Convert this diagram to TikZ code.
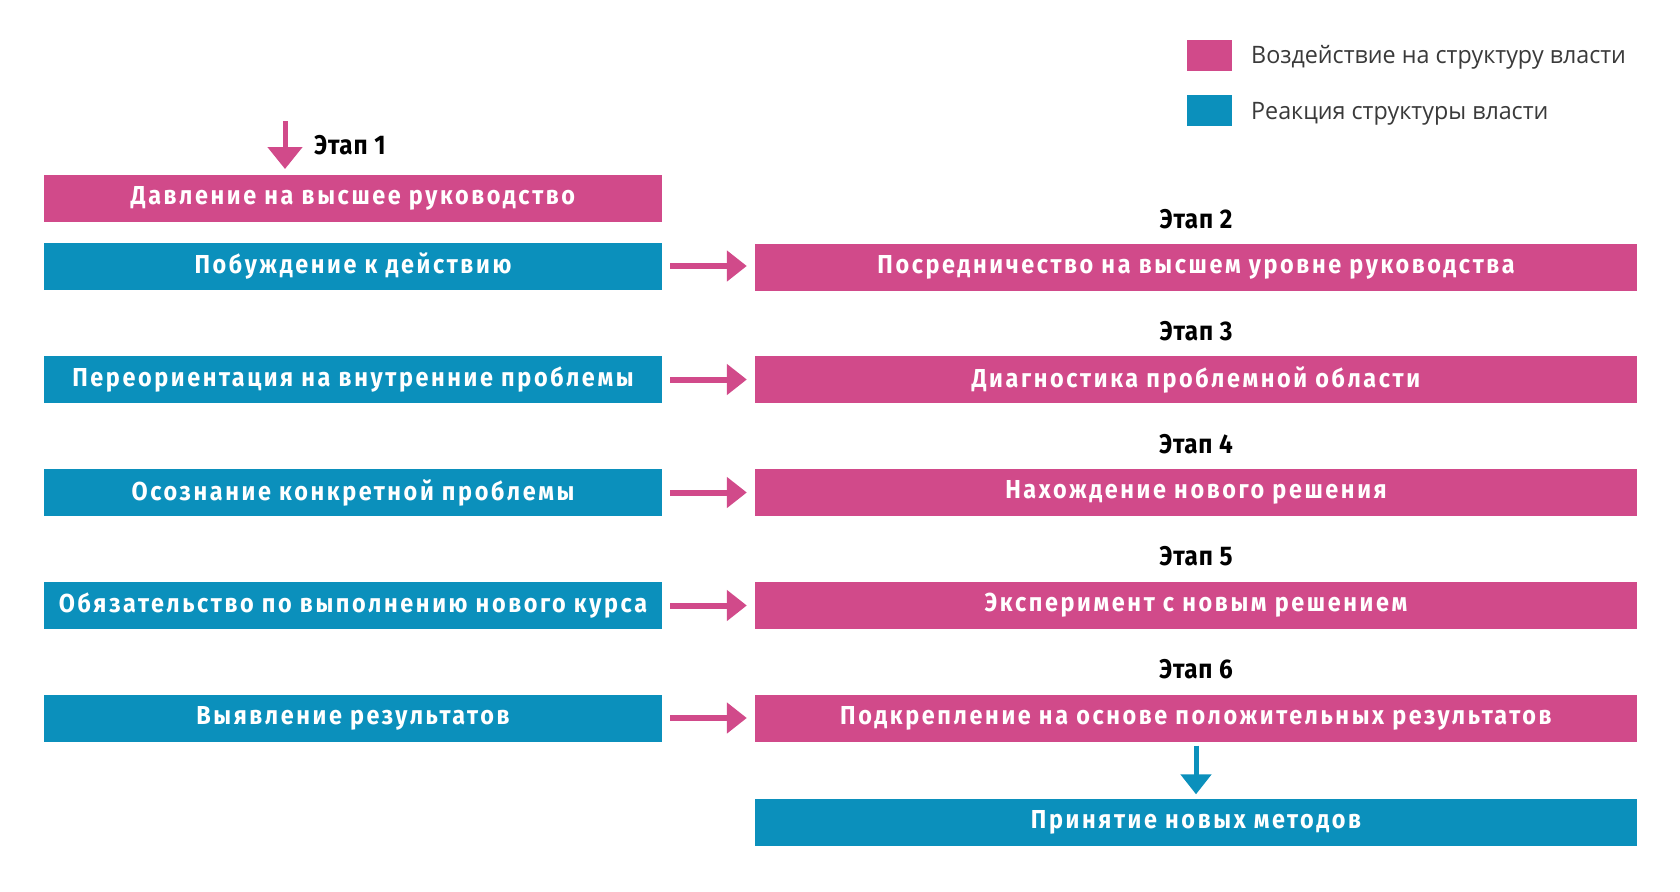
\documentclass[tikz,border=0pt]{standalone}
\usepackage{fontspec}
\usetikzlibrary{arrows.meta}
\newfontfamily\boxfont[FakeStretch=0.90,LetterSpace=10]{Fira Sans}
\newfontfamily\stagefont[FakeStretch=0.90,LetterSpace=3]{Fira Sans}
\newfontfamily\legfont[FakeStretch=0.97]{Open Sans}
\definecolor{pinkc}{HTML}{D14A8A}
\definecolor{bluec}{HTML}{0B90BC}
\definecolor{legtext}{HTML}{3A3A3A}
\tikzset{
  boxbase/.style={minimum height=47pt, inner sep=0pt, text=white,
    font=\boxfont\bfseries\fontsize{26}{30}\selectfont},
  pinkleft/.style={boxbase, fill=pinkc, minimum width=618pt},
  blueleft/.style={boxbase, fill=bluec, minimum width=618pt},
  pinkright/.style={boxbase, fill=pinkc, minimum width=882pt},
  blueright/.style={boxbase, fill=bluec, minimum width=882pt},
  stagelabel/.style={font=\stagefont\bfseries\fontsize{27}{31}\selectfont, text=black, inner sep=0pt},
  harrow/.style={draw=pinkc, line width=6pt, -{Triangle[length=20pt,width=30pt]}, shorten <=8pt, shorten >=8pt},
  pdown/.style={draw=pinkc, line width=5pt, -{Triangle[length=22pt,width=34pt]}},
  bdown/.style={draw=bluec, line width=5pt, -{Triangle[length=20pt,width=30pt]}, shorten <=4pt, shorten >=4pt},
  legsq/.style={minimum width=45pt, minimum height=31pt, inner sep=0pt},
  legtxt/.style={anchor=west, inner sep=0pt, text=legtext, font=\legfont\fontsize{24}{28}\selectfont}
}
\begin{document}
\begin{tikzpicture}[x=1pt,y=-1pt]
\useasboundingbox[fill=white] (0,0) rectangle (1680,891);

% legend
\node[legsq, fill=pinkc] (lg1) at (1209.5,55.5) {};
\node[legtxt] (lt1) at (1251,57) {Воздействие на структуру власти};
\node[legsq, fill=bluec] (lg2) at (1209.5,110.5) {};
\node[legtxt] (lt2) at (1251,114) {Реакция структуры власти};

% stage 1
\node[stagelabel, anchor=west] (e1) at (314,145) {Этап 1};
\coordinate (s1) at (285,121);
\node[pinkleft] (l0) at (353,198.5) {Давление на высшее руководство};
\draw[pdown] (s1) -- (s1 |- 169,169);

% rows
\node[blueleft] (l1) at (353,266) {Побуждение к действию};
\node[pinkright] (r1) at (1196,267.5) {Посредничество на высшем уровне руководства};
\node[stagelabel] (e2) at (1196,219) {Этап 2};

\node[blueleft] (l2) at (353,379.5) {Переориентация на внутренние проблемы};
\node[pinkright] (r2) at (1196,379.5) {Диагностика проблемной области};
\node[stagelabel] (e3) at (1196,331) {Этап 3};

\node[blueleft] (l3) at (353,492.5) {Осознание конкретной проблемы};
\node[pinkright] (r3) at (1196,492.5) {Нахождение нового решения};
\node[stagelabel] (e4) at (1196,444) {Этап 4};

\node[blueleft] (l4) at (353,605.5) {Обязательство по выполнению нового курса};
\node[pinkright] (r4) at (1196,605.5) {Эксперимент с новым решением};
\node[stagelabel] (e5) at (1196,556) {Этап 5};

\node[blueleft] (l5) at (353,718) {Выявление результатов};
\node[pinkright] (r5) at (1196,718) {Подкрепление на основе положительных результатов};
\node[stagelabel] (e6) at (1196,669) {Этап 6};

\node[blueright] (fin) at (1196,822) {Принятие новых методов};

\draw[harrow] (l1.east) -- (l1.east -| r1.west);
\draw[harrow] (l2.east) -- (r2.west);
\draw[harrow] (l3.east) -- (r3.west);
\draw[harrow] (l4.east) -- (r4.west);
\draw[harrow] (l5.east) -- (r5.west);
\draw[bdown] (r5.south) -- (fin.north);
\end{tikzpicture}
\end{document}
